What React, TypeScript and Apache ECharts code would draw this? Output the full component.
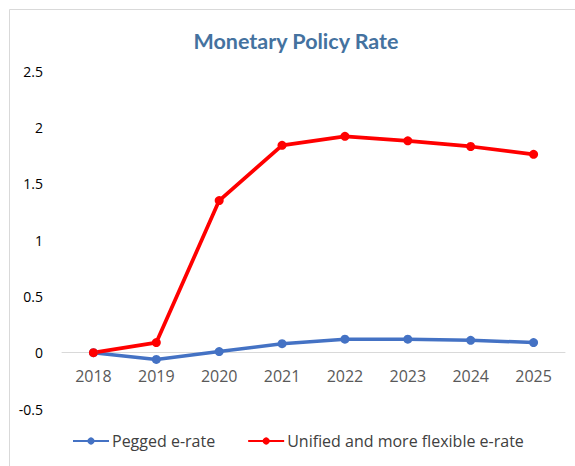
import React, { useEffect, useRef } from "react";
import * as echarts from "echarts";

const categories = ["2018", "2019", "2020", "2021", "2022", "2023", "2024", "2025"];
const peggedValues = [0, -0.06, 0.01, 0.08, 0.12, 0.12, 0.11, 0.09];
const unifiedValues = [0, 0.09, 1.35, 1.84, 1.92, 1.88, 1.83, 1.76];
const seriesNames = ["Pegged e-rate", "Unified and more flexible e-rate"];
const titleText = "Monetary Policy Rate";

export default function App() {
  const ref = useRef<HTMLDivElement>(null);
  useEffect(() => {
    if (!ref.current) return;
    const chart = echarts.init(ref.current, undefined, { renderer: "svg" });
    const font = "'Open Sans', 'Noto Sans', sans-serif";
    const gridTop = 71;
    const gridBottom = 57;
    const plotH = 466 - gridTop - gridBottom;
    const yMin = -0.5;
    const yMax = 2.5;
    const zeroOffset = (plotH * (0 - yMin)) / (yMax - yMin);
    chart.setOption({
      animation: false,
      backgroundColor: "#ffffff",
      title: {
        text: titleText,
        left: 291,
        textAlign: "center",
        top: 25,
        textStyle: {
          fontFamily: "Lato, 'Open Sans', sans-serif",
          fontWeight: "bold",
          fontSize: 21.5,
          color: "#44729F",
        },
      },
      graphic: [
        {
          type: "line",
          shape: { x1: 9.5, y1: 9.5, x2: 575, y2: 9.5 },
          style: { stroke: "#d9d9d9", lineWidth: 1 },
          silent: true,
        },
        {
          type: "line",
          shape: { x1: 9.5, y1: 9.5, x2: 9.5, y2: 466 },
          style: { stroke: "#d9d9d9", lineWidth: 1 },
          silent: true,
        },
      ],
      legend: {
        top: 433,
        left: 72,
        padding: 0,
        itemGap: 32,
        itemWidth: 36,
        itemHeight: 9,
        textStyle: { fontFamily: font, fontSize: 16, color: "#404040", padding: [0, 0, 0, -2] },
        data: seriesNames,
      },
      grid: { left: 62, right: 10, top: gridTop, bottom: gridBottom },
      xAxis: {
        type: "category",
        data: categories,
        boundaryGap: true,
        position: "bottom",
        offset: -zeroOffset,
        axisLine: { onZero: false, lineStyle: { color: "#d9d9d9", width: 1 } },
        axisTick: { show: false },
        axisLabel: { color: "#595959", fontFamily: font, fontSize: 16, margin: 15 },
      },
      yAxis: {
        type: "value",
        min: yMin,
        max: yMax,
        interval: 0.5,
        axisLine: { show: false },
        axisTick: { show: false },
        splitLine: { show: false },
        axisLabel: { color: "#000000", fontFamily: font, fontSize: 14, margin: 19 },
      },
      series: [
        {
          name: seriesNames[0],
          type: "line",
          data: peggedValues,
          symbol: "circle",
          symbolSize: 9,
          lineStyle: { color: "#4472C4", width: 3.5 },
          itemStyle: { color: "#4472C4" },
        },
        {
          name: seriesNames[1],
          type: "line",
          data: unifiedValues,
          symbol: "circle",
          symbolSize: 9,
          lineStyle: { color: "#FF0000", width: 3.75 },
          itemStyle: { color: "#FF0000" },
        },
      ],
    });
    return () => chart.dispose();
  }, []);
  return (
    <div
      ref={ref}
      style={{ position: "fixed", left: 0, top: 0, width: 575, height: 466 }}
    />
  );
}
